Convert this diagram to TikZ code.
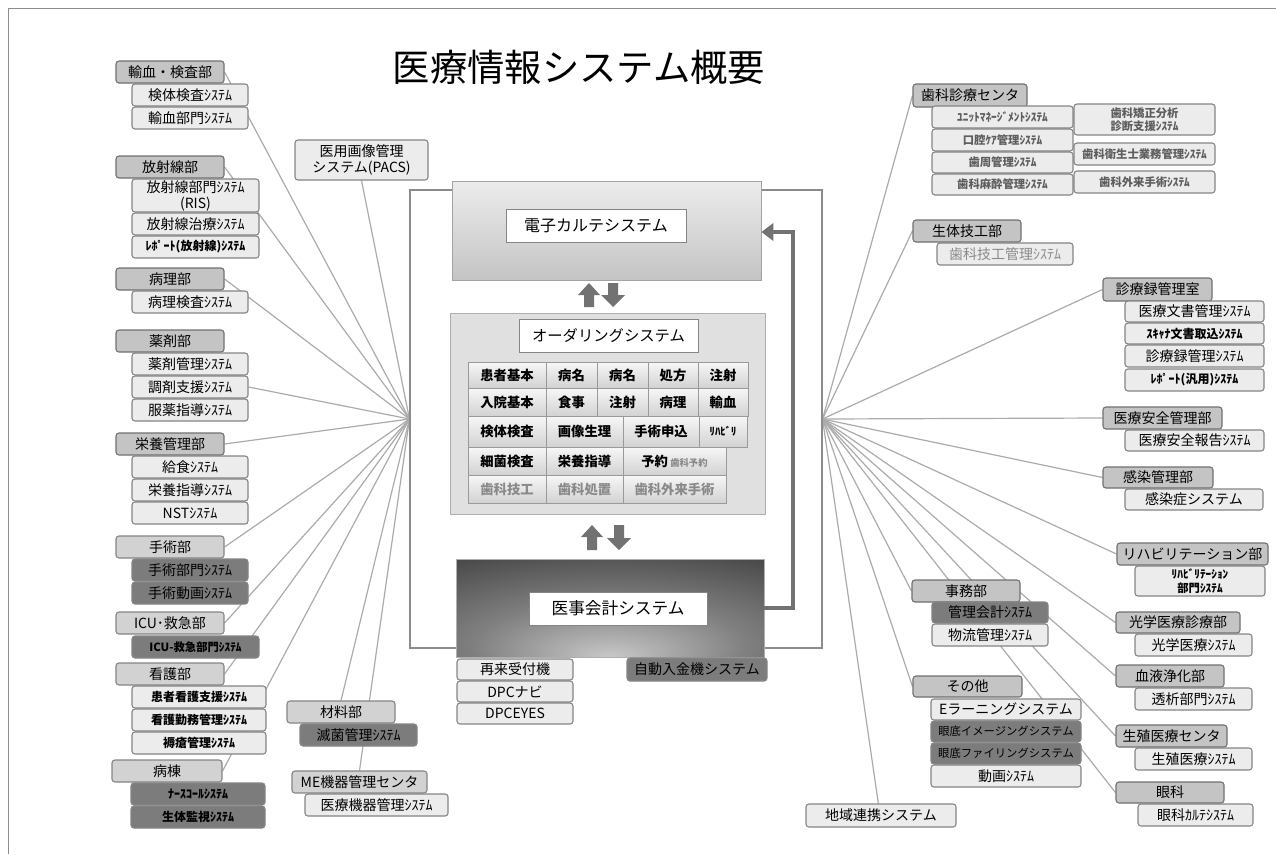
\documentclass[tikz,border=0pt]{standalone}
\usepackage{fontspec}
\setmainfont{Noto Sans CJK JP}
\usetikzlibrary{arrows.meta,backgrounds}
\definecolor{headc}{HTML}{C4C4C4}
\definecolor{headl}{HTML}{D2D2D2}
\definecolor{ltc}{HTML}{ECECEC}
\definecolor{dkc}{HTML}{7C7C7C}
\definecolor{bordc}{HTML}{858585}
\definecolor{linec}{HTML}{ABABAB}
\definecolor{arrc}{HTML}{727272}
\definecolor{framec}{HTML}{8C8C8C}
\definecolor{gtx}{HTML}{5E5E5E}
\definecolor{gtl}{HTML}{8A8A8A}
\definecolor{cellb}{HTML}{9A9A9A}
\definecolor{cellt}{HTML}{F7F7F7}
\definecolor{cellbt}{HTML}{D2D2D2}
\definecolor{ordc}{HTML}{E0E0E0}
\definecolor{ijiL}{HTML}{C8C8C8}
\definecolor{ijiM}{HTML}{808080}
\definecolor{ijiD}{HTML}{3A3A3A}
\pgfdeclareradialshading{ijishade}{\pgfpoint{0bp}{-25bp}}{color(0bp)=(ijiL); color(22bp)=(ijiM); color(52bp)=(ijiD); color(100bp)=(ijiD)}
\pgfdeclarelayer{paper}
\pgfsetlayers{paper,background,main}
\newcommand{\bx}[7]{\node[#1, minimum width={0.75pt*(#4-#2)}, minimum height={0.75pt*(#5-#3)}] (#6) at ({(#2+#4)/2},{(#3+#5)/2}) {#7};}
\newcommand{\uparr}[3]{\fill[arrc] (#1-5,#3) -- (#1-5,#2+12) -- (#1-11,#2+12) -- (#1,#2) -- (#1+11,#2+12) -- (#1+5,#2+12) -- (#1+5,#3) -- cycle;}
\newcommand{\dnarr}[3]{\fill[arrc] (#1-5,#2) -- (#1-5,#3-12) -- (#1-12,#3-12) -- (#1,#3) -- (#1+12,#3-12) -- (#1+5,#3-12) -- (#1+5,#2) -- cycle;}
\tikzset{
  bxbase/.style={draw=bordc, line width=0.8pt, rounded corners=2.2pt, align=center, inner sep=0.5pt, font=\fontsize{10.5}{12}\selectfont, text=black},
  hd/.style={bxbase, fill=headc, draw=bordc!85!black},
  hdl/.style={bxbase, fill=headl},
  lt/.style={bxbase, fill=ltc},
  dk/.style={bxbase, fill=dkc},
  bs/.style={font=\fontsize{9}{10.5}\selectfont\bfseries},
  bss/.style={font=\fontsize{8.5}{10}\selectfont\bfseries},
  conn/.style={draw=linec, line width=0.9pt},
  cell/.style={draw=cellb, line width=0.6pt, top color=cellt, bottom color=cellbt, font=\fontsize{10}{11}\selectfont\bfseries, inner sep=0pt},
  lbl/.style={draw=bordc, fill=white, line width=0.6pt, inner sep=0pt},
  fb/.style={draw=arrc, line width=3.6pt, -{Triangle[length=9pt,width=13pt]}},
}
\begin{document}
\begin{tikzpicture}[x=0.75pt,y=-0.75pt]
\useasboundingbox (0,0) rectangle (1276,854);
\begin{pgfonlayer}{paper}
\fill[white] (0,0) rectangle (1276,854);
\draw[framec, line width=0.6pt] (8,854) -- (8,8) -- (1276,8);
\end{pgfonlayer}

% title
\node[font=\fontsize{28}{32}\selectfont] (title) at (579,67) {医療情報システム概要};

% central frame
\node[draw=framec, line width=0.8pt, minimum width={0.75pt*412}, minimum height={0.75pt*458}, inner sep=0pt] (frame) at (616,419) {};

% ---------- left side ----------
\bx{hd}{116}{61}{224}{83}{h1}{輸血・検査部}
\bx{lt}{132}{84}{248}{106}{s1a}{検体検査ｼｽﾃﾑ}
\bx{lt}{132}{107}{248}{129}{s1b}{輸血部門ｼｽﾃﾑ}

\bx{hd}{116}{156}{224}{178}{h2}{放射線部}
\bx{lt}{132}{179}{259}{212}{s2a}{放射線部門ｼｽﾃﾑ\\(RIS)}
\bx{lt}{132}{213}{259}{235}{s2b}{放射線治療ｼｽﾃﾑ}
\bx{lt,bs}{132}{236}{259}{258}{s2c}{ﾚﾎﾟｰﾄ(放射線)ｼｽﾃﾑ}

\bx{hd}{116}{268}{224}{290}{h3}{病理部}
\bx{lt}{132}{291}{248}{313}{s3a}{病理検査ｼｽﾃﾑ}

\bx{hd}{116}{330}{224}{352}{h4}{薬剤部}
\bx{lt}{132}{353}{248}{375}{s4a}{薬剤管理ｼｽﾃﾑ}
\bx{lt}{132}{376}{248}{398}{chozai}{調剤支援ｼｽﾃﾑ}
\bx{lt}{132}{399}{248}{421}{s4c}{服薬指導ｼｽﾃﾑ}

\bx{hd}{116}{433}{224}{455}{h5}{栄養管理部}
\bx{lt}{132}{456}{248}{478}{s5a}{給食ｼｽﾃﾑ}
\bx{lt}{132}{479}{248}{501}{s5b}{栄養指導ｼｽﾃﾑ}
\bx{lt}{132}{502}{248}{524}{s5c}{NSTｼｽﾃﾑ}

\bx{hdl}{116}{536}{224}{558}{h6}{手術部}
\bx{dk}{132}{559}{248}{581}{s6a}{手術部門ｼｽﾃﾑ}
\bx{dk}{132}{582}{248}{604}{s6b}{手術動画ｼｽﾃﾑ}

\bx{hdl}{116}{612}{224}{634}{h7}{ICU･救急部}
\bx{dk,bss}{132}{636}{259}{658}{s7a}{ICU-救急部門ｼｽﾃﾑ}

\bx{hdl}{116}{663}{224}{685}{h8}{看護部}
\bx{lt,bs}{132}{686}{266}{708}{s8a}{患者看護支援ｼｽﾃﾑ}
\bx{lt,bs}{132}{709}{266}{731}{s8b}{看護勤務管理ｼｽﾃﾑ}
\bx{lt,bs}{132}{732}{266}{754}{s8c}{褥瘡管理ｼｽﾃﾑ}

\bx{hdl}{112}{760}{222}{782}{h9}{病棟}
\bx{dk,bs}{131}{783}{265}{805}{s9a}{ﾅｰｽｺｰﾙｼｽﾃﾑ}
\bx{dk,bs}{131}{806}{265}{828}{s9b}{生体監視ｼｽﾃﾑ}

\bx{lt}{295}{140}{428}{180}{pacs}{医用画像管理\\システム(PACS)}

\bx{hdl}{287}{701}{395}{723}{zai}{材料部}
\bx{dk}{300}{724}{417}{746}{zaia}{滅菌管理ｼｽﾃﾑ}
\bx{hdl}{292}{771}{427}{793}{me}{ME機器管理センタ}
\bx{lt}{305}{794}{448}{816}{mea}{医療機器管理ｼｽﾃﾑ}

% ---------- centre ----------
\bx{draw=framec!80, line width=0.7pt, top color=ltc, bottom color=headc, inner sep=0pt}{452}{181}{761}{280}{denshi}{}
\bx{lbl}{506}{209}{686}{242}{denshil}{\fontsize{12}{14}\selectfont 電子カルテシステム}

\uparr{589}{283}{307}
\dnarr{613}{283}{307}

\bx{draw=framec!70, line width=0.7pt, fill=ordc, inner sep=0pt}{450}{313}{765}{514}{order}{}
\bx{lbl}{519}{319}{698}{352}{orderl}{\fontsize{11.5}{13}\selectfont オーダリングシステム}

\bx{cell}{468}{362}{546}{388}{c11}{患者基本}
\bx{cell}{546}{362}{597}{388}{c12}{病名}
\bx{cell}{597}{362}{648}{388}{c13}{病名}
\bx{cell}{648}{362}{698}{388}{c14}{処方}
\bx{cell}{698}{362}{748}{388}{c15}{注射}
\bx{cell}{468}{388}{546}{416}{c21}{入院基本}
\bx{cell}{546}{388}{597}{416}{c22}{食事}
\bx{cell}{597}{388}{648}{416}{c23}{注射}
\bx{cell}{648}{388}{698}{416}{c24}{病理}
\bx{cell}{698}{388}{748}{416}{c25}{輸血}
\bx{cell}{468}{416}{546}{447}{c31}{検体検査}
\bx{cell}{546}{416}{623}{447}{c32}{画像生理}
\bx{cell}{623}{416}{699}{447}{c33}{手術申込}
\bx{cell,font=\fontsize{8}{9}\selectfont\bfseries}{699}{416}{747}{447}{c34}{ﾘﾊﾋﾞﾘ}
\bx{cell}{468}{447}{546}{475}{c41}{細菌検査}
\bx{cell}{546}{447}{623}{475}{c42}{栄養指導}
\bx{cell}{623}{447}{726}{475}{c43}{予約\,{\fontsize{7}{8}\selectfont\color{gtl}歯科予約}}
\bx{cell,text=gtl}{468}{475}{546}{503}{c51}{歯科技工}
\bx{cell,text=gtl}{546}{475}{623}{503}{c52}{歯科処置}
\bx{cell,text=gtl}{623}{475}{726}{503}{c53}{歯科外来手術}

\uparr{592}{525}{550}
\dnarr{619}{525}{550}

\bx{draw=framec!70, line width=0.7pt, shading=ijishade, inner sep=0pt}{456}{559}{764}{657}{iji}{}
\bx{lbl}{529}{592}{707}{625}{ijil}{\fontsize{12.5}{14}\selectfont 医事会計システム}

\bx{lt}{457}{659}{573}{680}{saerai}{再来受付機}
\bx{lt}{457}{681}{573}{702}{dpcnavi}{DPCナビ}
\bx{lt}{457}{703}{573}{724}{dpceyes}{DPCEYES}
\bx{dk}{627}{658}{767}{681}{jido}{自動入金機システム}

\coordinate (fbtop) at (793,232);
\draw[fb] (iji.east) -| (fbtop) -- (denshi.east |- fbtop);

% ---------- right side ----------
\bx{hd}{913}{84}{1027}{107}{shika}{歯科診療センタ}
\bx{lt,bss,text=gtx}{932}{106}{1073}{128}{sk1}{ﾕﾆｯﾄﾏﾈｰｼﾞﾒﾝﾄｼｽﾃﾑ}
\bx{lt,bss,text=gtx}{932}{129}{1073}{151}{sk2}{口腔ｹｱ管理ｼｽﾃﾑ}
\bx{lt,bss,text=gtx}{932}{152}{1073}{173}{sk3}{歯周管理ｼｽﾃﾑ}
\bx{lt,bss,text=gtx}{932}{174}{1073}{195}{sk4}{歯科麻酔管理ｼｽﾃﾑ}
\bx{lt,bss,text=gtx}{1074}{104}{1215}{135}{sk5}{歯科矯正分析\\診断支援ｼｽﾃﾑ}
\bx{lt,bss,text=gtx}{1074}{143}{1215}{165}{sk6}{歯科衛生士業務管理ｼｽﾃﾑ}
\bx{lt,bss,text=gtx}{1074}{171}{1215}{193}{sk7}{歯科外来手術ｼｽﾃﾑ}

\bx{hd}{913}{220}{1021}{242}{seitai}{生体技工部}
\bx{lt,text=gtl}{937}{243}{1073}{265}{seitaia}{歯科技工管理ｼｽﾃﾑ}

\bx{hd}{1103}{278}{1212}{301}{shinryo}{診療録管理室}
\bx{lt}{1125}{301}{1264}{322}{sr1}{医療文書管理ｼｽﾃﾑ}
\bx{lt,bs}{1125}{323}{1264}{344}{sr2}{ｽｷｬﾅ文書取込ｼｽﾃﾑ}
\bx{lt}{1125}{345}{1264}{367}{sr3}{診療録管理ｼｽﾃﾑ}
\bx{lt,bs}{1125}{369}{1264}{391}{sr4}{ﾚﾎﾟｰﾄ(汎用)ｼｽﾃﾑ}

\bx{hd}{1103}{407}{1222}{429}{anzen}{医療安全管理部}
\bx{lt}{1125}{430}{1264}{451}{anzena}{医療安全報告ｼｽﾃﾑ}

\bx{hd}{1103}{467}{1213}{488}{kansen}{感染管理部}
\bx{lt}{1125}{489}{1263}{510}{kansena}{感染症システム}

\bx{hd}{1117}{543}{1268}{565}{reha}{リハビリテーション部}
\bx{lt,bss}{1135}{566}{1265}{596}{rehaa}{ﾘﾊﾋﾞﾘﾃｰｼｮﾝ\\部門ｼｽﾃﾑ}

\bx{hd}{1116}{612}{1240}{633}{kogaku}{光学医療診療部}
\bx{lt}{1135}{634}{1252}{656}{kogakua}{光学医療ｼｽﾃﾑ}

\bx{hd}{1116}{665}{1224}{687}{ketsu}{血液浄化部}
\bx{lt}{1135}{688}{1252}{710}{ketsua}{透析部門ｼｽﾃﾑ}

\bx{hd}{1116}{725}{1227}{747}{seishoku}{生殖医療センタ}
\bx{lt}{1135}{748}{1252}{770}{seishokua}{生殖医療ｼｽﾃﾑ}

\bx{hd}{1116}{782}{1224}{803}{ganka}{眼科}
\bx{lt}{1138}{804}{1253}{826}{gankaa}{眼科ｶﾙﾃｼｽﾃﾑ}

\bx{hd}{912}{580}{1020}{602}{jimu}{事務部}
\bx{dk}{932}{602}{1048}{623}{jimua}{管理会計ｼｽﾃﾑ}
\bx{lt}{932}{624}{1048}{646}{jimub}{物流管理ｼｽﾃﾑ}

\bx{hd}{913}{676}{1022}{697}{sonota}{その他}
\bx{lt}{931}{699}{1081}{720}{so1}{Eラーニングシステム}
\bx{dk,font=\fontsize{8.5}{10}\selectfont}{931}{721}{1081}{742}{so2}{眼底イメージングシステム}
\bx{dk,font=\fontsize{8.5}{10}\selectfont}{931}{743}{1081}{764}{so3}{眼底ファイリングシステム}
\bx{lt}{931}{765}{1081}{787}{so4}{動画ｼｽﾃﾑ}

\bx{lt}{806}{804}{956}{827}{chiiki}{地域連携システム}

% ---------- connectors ----------
\begin{pgfonlayer}{background}
\foreach \n in {h1,h2,h3,chozai,h5,h6,h7,h8,h9}
  \draw[conn] (\n.east) -- (frame.west);
\draw[conn] (pacs.south) -- (frame.west);
\draw[conn] (zai.north) -- (frame.west);
\draw[conn] (me.north) -- (frame.west);
\foreach \n in {shika,seitai,shinryo,anzen,kansen,reha,kogaku,ketsu,seishoku,ganka,jimu,sonota}
  \draw[conn] (\n.west) -- (frame.east);
\draw[conn] ([xshift=-2pt]chiiki.north) -- (frame.east);
\end{pgfonlayer}
\end{tikzpicture}
\end{document}
